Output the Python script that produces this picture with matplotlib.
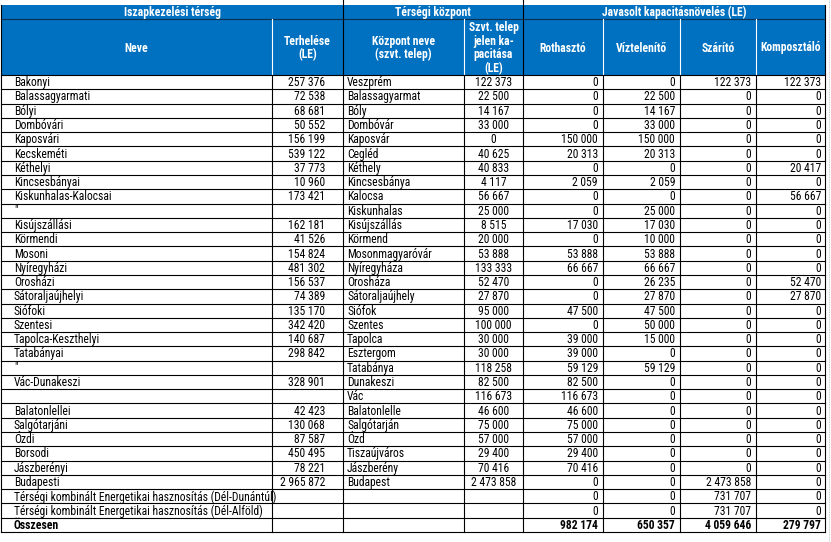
import matplotlib
matplotlib.use('Agg')
import matplotlib.pyplot as plt
from matplotlib.patches import Rectangle

terseg_nev = ["Bakonyi", "Balassagyarmati", "Bólyi", "Dombóvári", "Kaposvári", "Kecskeméti",
              "Kéthelyi", "Kincsesbányai", "Kiskunhalas-Kalocsai", '"', "Kisújszállási",
              "Körmendi", "Mosoni", "Nyíregyházi", "Orosházi", "Sátoraljaújhelyi", "Siófoki",
              "Szentesi", "Tapolca-Keszthelyi", "Tatabányai", '"', "Vác-Dunakeszi", "",
              "Balatonlellei", "Salgótarjáni", "Ózdi", "Borsodi", "Jászberényi", "Budapesti",
              "Térségi kombinált Energetikai hasznosítás (Dél-Dunántúl)",
              "Térségi kombinált Energetikai hasznosítás (Dél-Alföld)"]
terheles = [257376, 72538, 68681, 50552, 156199, 539122, 37773, 10960, 173421, None,
            162181, 41526, 154824, 481302, 156537, 74389, 135170, 342420, 140687, 298842,
            None, 328901, None, 42423, 130068, 87587, 450495, 78221, 2965872, None, None]
kozpont_nev = ["Veszprém", "Balassagyarmat", "Bóly", "Dombóvár", "Kaposvár", "Cegléd",
               "Kéthely", "Kincsesbánya", "Kalocsa", "Kiskunhalas", "Kisújszállás", "Körmend",
               "Mosonmagyaróvár", "Nyíregyháza", "Orosháza", "Sátoraljaújhely", "Siófok",
               "Szentes", "Tapolca", "Esztergom", "Tatabánya", "Dunakeszi", "Vác",
               "Balatonlelle", "Salgótarján", "Ózd", "Tiszaújváros", "Jászberény", "Budapest",
               "", ""]
kapacitas = [122373, 22500, 14167, 33000, 0, 40625, 40833, 4117, 56667, 25000, 8515, 20000,
             53888, 133333, 52470, 27870, 95000, 100000, 30000, 30000, 118258, 82500, 116673,
             46600, 75000, 57000, 29400, 70416, 2473858, None, None]
rothaszto = [0, 0, 0, 0, 150000, 20313, 0, 2059, 0, 0, 17030, 0, 53888, 66667, 0, 0, 47500,
             0, 39000, 39000, 59129, 82500, 116673, 46600, 75000, 57000, 29400, 70416, 0, 0, 0]
viztelenito = [0, 22500, 14167, 33000, 150000, 20313, 0, 2059, 0, 25000, 17030, 10000, 53888,
               66667, 26235, 27870, 47500, 50000, 15000, 0, 59129, 0, 0, 0, 0, 0, 0, 0, 0, 0, 0]
szarito = [122373, 0, 0, 0, 0, 0, 0, 0, 0, 0, 0, 0, 0, 0, 0, 0, 0, 0, 0, 0, 0, 0, 0, 0, 0,
           0, 0, 0, 2473858, 731707, 731707]
komposztalo = [122373, 0, 0, 0, 0, 0, 20417, 0, 56667, 0, 0, 0, 0, 0, 52470, 27870, 0, 0, 0,
               0, 0, 0, 0, 0, 0, 0, 0, 0, 0, 0, 0]
osszesen = [982174, 650357, 4059646, 279797]

group_titles = ["Iszapkezelési térség", "Térségi központ", "Javasolt kapacitásnövelés (LE)"]
col_titles = ["Neve", "Terhelése\n(LE)", "Központ neve\n(szvt. telep)",
              "Szvt. telep\njelen ka-\npacitása\n(LE)", "Rothasztó", "Víztelenítő",
              "Szárító", "Komposztáló"]

plt.rcParams['font.family'] = ['Roboto Condensed', 'Archivo Narrow', 'Liberation Sans',
                               'DejaVu Sans']

BLUE = '#0070C0'
W, H = 831, 542
xs = [1, 272, 343, 464, 523, 603, 680, 756, 825]
top, h1, h2 = 5, 19, 75
bottom = 532
nrows = len(terseg_nev) + 1
rh = (bottom - h2) / nrows
FS = 8.4


def fmt(v):
    if v is None:
        return ""
    return f"{v:,}".replace(",", " ")


fig = plt.figure(figsize=(W / 100, H / 100), dpi=100)
ax = fig.add_axes([0, 0, 1, 1])
ax.set_xlim(0, W)
ax.set_ylim(H, 0)
ax.axis('off')

# header
ax.add_patch(Rectangle((xs[0], top), xs[-1] - xs[0], h2 - top, color=BLUE, lw=0))
ax.plot([xs[0], xs[-1]], [h1, h1], color='#10304f', lw=0.8)
groups = [(xs[0], xs[2]), (xs[2], xs[4]), (xs[4], xs[-1])]
for (a, b), t in zip(groups, group_titles):
    ax.text((a + b) / 2, (top + h1) / 2 + 0.5, t, ha='center', va='center', color='white',
            fontsize=FS, fontweight='bold')
for i, t in enumerate(col_titles):
    ax.text((xs[i] + xs[i + 1]) / 2, (h1 + h2) / 2 + 1, t, ha='center', va='center',
            color='white', fontsize=FS, fontweight='bold', linespacing=1.05)
for i in [1, 3, 5, 6, 7]:
    ax.plot([xs[i], xs[i]], [h1, h2], color='white', lw=0.8)

# grid lines
for r in range(nrows + 1):
    y = h2 + r * rh
    ax.plot([xs[0], xs[-1]], [y, y], color='black', lw=0.8)
for i, x in enumerate(xs):
    y0 = 0 if i in (2, 4) else (top if i in (0, 8) else h2)
    ax.plot([x, x], [y0, bottom], color='black', lw=0.8)
ax.plot([829, 829], [0, H], color='#bbbbbb', lw=0.6, ls=(0, (1, 1)))

# body
for r in range(len(terseg_nev)):
    y = h2 + (r + 0.5) * rh + 0.5
    ax.text(14, y, terseg_nev[r], ha='left', va='center', fontsize=FS)
    ax.text(325, y, fmt(terheles[r]), ha='right', va='center', fontsize=FS)
    ax.text(347, y, kozpont_nev[r], ha='left', va='center', fontsize=FS)
    ax.text((xs[3] + xs[4]) / 2, y, fmt(kapacitas[r]), ha='center', va='center', fontsize=FS)
    for x, vals in zip([598, 675, 751, 821], [rothaszto, viztelenito, szarito, komposztalo]):
        ax.text(x, y, fmt(vals[r]), ha='right', va='center', fontsize=FS)

y = h2 + (nrows - 0.5) * rh + 0.5
ax.text(14, y, "Összesen", ha='left', va='center', fontsize=FS, fontweight='bold')
for x, v in zip([598, 675, 751, 821], osszesen):
    ax.text(x, y, fmt(v), ha='right', va='center', fontsize=FS, fontweight='bold')

fig.savefig('out.png', dpi=100)
